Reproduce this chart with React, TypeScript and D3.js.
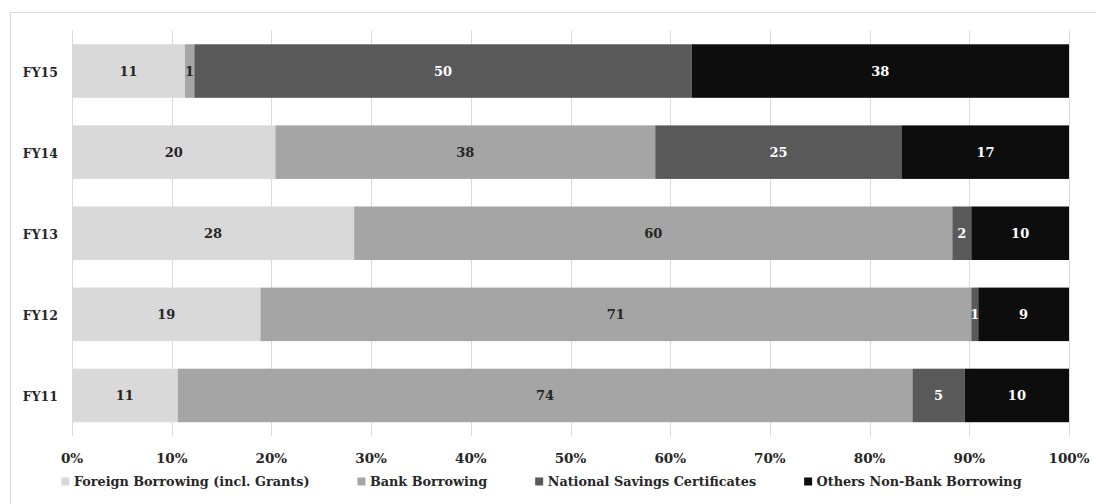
import React, { useEffect, useRef } from "react";
import * as d3 from "d3";

const categories = ["FY15", "FY14", "FY13", "FY12", "FY11"];
const seriesNames = [
  "Foreign Borrowing (incl. Grants)",
  "Bank Borrowing",
  "National Savings Certificates",
  "Others Non-Bank Borrowing",
];
const foreignBorrowing = [11.33, 20.4, 28.3, 18.9, 10.6];
const bankBorrowing = [0.94, 38.1, 60.0, 71.3, 73.7];
const nationalSavings = [49.88, 24.75, 1.9, 0.7, 5.25];
const othersNonBank = [37.85, 16.75, 9.8, 9.1, 10.45];
const tickValues = [0, 10, 20, 30, 40, 50, 60, 70, 80, 90, 100];

const colors = ["#d9d9d9", "#a5a5a5", "#595959", "#0d0d0d"];
const labelColors = ["#262626", "#262626", "#ffffff", "#ffffff"];
const FONT = "'DejaVu Serif', serif";

export default function App() {
  const ref = useRef<SVGSVGElement | null>(null);

  useEffect(() => {
    const svg = d3.select(ref.current);
    svg.selectAll("*").remove();
    const W = 1096, H = 504;
    const left = 72, right = 1069, top = 30.5, bottom = 436;

    const series = [foreignBorrowing, bankBorrowing, nationalSavings, othersNonBank];
    const rows = categories.map((c, i) => {
      const o: any = { cat: c };
      seriesNames.forEach((s, k) => (o[s] = series[k][i]));
      return o;
    });
    const stacked = d3.stack<any>().keys(seriesNames).offset(d3.stackOffsetExpand)(rows);

    const x = d3.scaleLinear().domain([0, 1]).range([left, right]);
    const y = d3.scaleBand<string>().domain(categories).range([top, bottom]).paddingInner(0.34).paddingOuter(0.17);

    // frame
    svg.append("rect").attr("x", 10.5).attr("y", 12.5).attr("width", 1100).attr("height", 520)
      .attr("fill", "none").attr("stroke", "#d9d9d9").attr("stroke-width", 1);

    // grid
    svg.append("g").selectAll("line").data(tickValues).join("line")
      .attr("x1", (d) => Math.round(x(d / 100)) + 0.5).attr("x2", (d) => Math.round(x(d / 100)) + 0.5)
      .attr("y1", top).attr("y2", bottom)
      .attr("stroke", "#d9d9d9").attr("stroke-width", 1);

    // bars
    const gBars = svg.append("g");
    stacked.forEach((layer, k) => {
      gBars.append("g").selectAll("rect").data(layer).join("rect")
        .attr("x", (d) => x(d[0]))
        .attr("width", (d) => x(d[1]) - x(d[0]))
        .attr("y", (d) => y(d.data.cat)!)
        .attr("height", y.bandwidth())
        .attr("fill", colors[k]);
    });

    // data labels
    const gLab = svg.append("g").attr("font-family", FONT).attr("font-weight", "bold").attr("font-size", 13);
    stacked.forEach((layer, k) => {
      gLab.append("g").selectAll("text").data(layer).join("text")
        .attr("x", (d) => (x(d[0]) + x(d[1])) / 2)
        .attr("y", (d) => y(d.data.cat)! + y.bandwidth() / 2 + 4.8)
        .attr("text-anchor", "middle")
        .attr("fill", labelColors[k])
        .text((d) => String(Math.round(d.data[seriesNames[k]])));
    });

    // category labels
    svg.append("g").selectAll("text").data(categories).join("text")
      .attr("x", left - 14).attr("y", (d) => y(d)! + y.bandwidth() / 2 + 5.5)
      .attr("text-anchor", "end").attr("font-family", FONT).attr("font-weight", "bold")
      .attr("font-size", 12.5).attr("fill", "#262626").text((d) => d);

    // tick labels
    svg.append("g").selectAll("text").data(tickValues).join("text")
      .attr("x", (d) => x(d / 100)).attr("y", 463)
      .attr("text-anchor", "middle").attr("font-family", FONT).attr("font-weight", "bold")
      .attr("font-size", 13.5).attr("fill", "#262626").text((d) => d + "%");

    // legend
    const gLeg = svg.append("g").attr("font-family", FONT).attr("font-weight", "bold").attr("font-size", 12.8);
    const sq = 8, gapTxt = 4.5, gapItem = 48, legCy = 481.5, legCenter = 541.5;
    const items = seriesNames.map((s, k) => {
      const g = gLeg.append("g");
      g.append("rect").attr("width", sq).attr("height", sq).attr("y", legCy - sq / 2).attr("fill", colors[k]);
      const t = g.append("text").attr("x", sq + gapTxt).attr("y", legCy + 4.7).attr("fill", "#262626").text(s);
      const w = (t.node() as SVGTextElement).getComputedTextLength();
      return { g, w: sq + gapTxt + w };
    });
    const total = d3.sum(items, (d) => d.w) + gapItem * (items.length - 1);
    let cx = legCenter - total / 2;
    items.forEach((it) => {
      it.g.attr("transform", `translate(${cx},0)`);
      cx += it.w + gapItem;
    });
    svg.attr("width", W).attr("height", H);
  }, []);

  return (
    <svg ref={ref} width={1096} height={504} style={{ position: "absolute", left: 0, top: 0, background: "#fff" }} />
  );
}
